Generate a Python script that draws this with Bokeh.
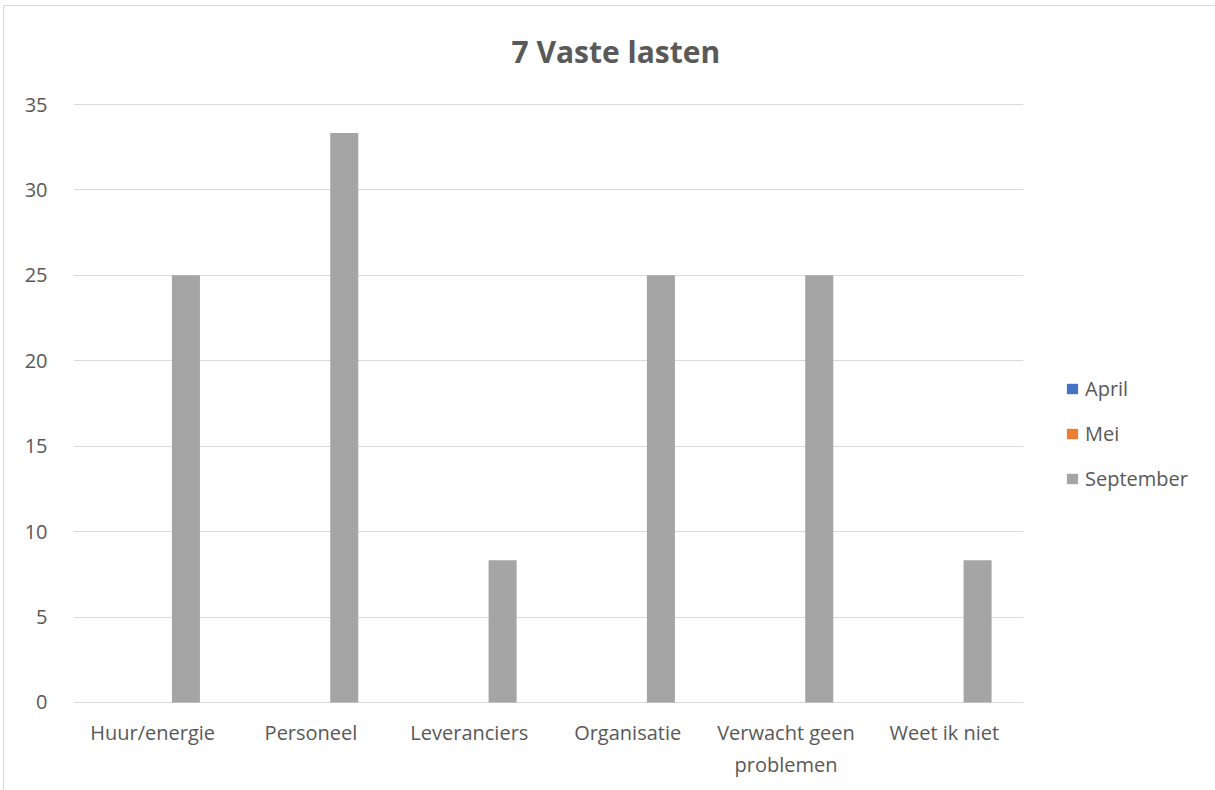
from bokeh.plotting import figure
from bokeh.models import (ColumnDataSource, FactorRange, Range1d, Legend, LegendItem,
                          Title, SingleIntervalTicker, InlineStyleSheet)
from bokeh.transform import dodge
from bokeh.embed import file_html
from bokeh.resources import INLINE

# ---- data ----
categories = ["Huur/energie", "Personeel", "Leveranciers", "Organisatie",
              "Verwacht geen\nproblemen", "Weet ik niet"]
april = [0, 0, 0, 0, 0, 0]
mei = [0, 0, 0, 0, 0, 0]
september = [25, 33.33, 8.33, 25, 25, 8.33]
series_names = ["April", "Mei", "September"]
series_colors = ["#4472c4", "#ed7d31", "#a5a5a5"]
title_text = "7 Vaste lasten"
y_max = 35
y_step = 5

FONT = "Open Sans"
TXT = "#595959"

src = ColumnDataSource(dict(cat=categories, april=april, mei=mei, september=september))

p = figure(x_range=FactorRange(*categories), y_range=Range1d(-0.06, y_max + 0.06),
           frame_width=950, frame_height=600,
           min_border_left=73, min_border_right=192, min_border_top=103, min_border_bottom=87,
           output_backend="svg", toolbar_location=None, background_fill_color="white",
           border_fill_color="white")
p.outline_line_color = None
p.stylesheets = [InlineStyleSheet(css=(
    ":host { overflow: hidden; }"
    ":host::after { content: ''; position: absolute; left: 3px; top: 5px; right: -20px; bottom: -20px;"
    " border-left: 1px solid #d9d9d9; border-top: 1px solid #d9d9d9; pointer-events: none; }"))]

offsets = [-0.21, 0.0, 0.21]
cols = ["april", "mei", "september"]
renderers = []
for off, col, colr in zip(offsets, cols, series_colors):
    r = p.vbar(x=dodge("cat", off, range=p.x_range), top=col, width=0.177,
               source=src, fill_color=colr, line_color=None)
    renderers.append(r)

p.yaxis.ticker = SingleIntervalTicker(interval=y_step)
for ax in (p.xaxis[0], p.yaxis[0]):
    ax.axis_line_color = None
    ax.major_tick_line_color = None
    ax.minor_tick_line_color = None
    ax.major_tick_out = 0
    ax.major_tick_in = 0
    ax.major_label_text_font = FONT
    ax.major_label_text_font_size = "20px"
    ax.major_label_text_color = TXT
p.yaxis.major_label_standoff = 22
p.xaxis[0].major_label_standoff = 15

p.xgrid.grid_line_color = None
p.ygrid.grid_line_color = "#d9d9d9"
p.ygrid.grid_line_width = 1

# title
p.title = Title(text=title_text, align="left", offset=438, vertical_align="top",
                standoff=60, text_font=FONT, text_font_style="bold",
                text_font_size="30px", text_color=TXT)

# legend
legend = Legend(items=[LegendItem(label=n, renderers=[r]) for n, r in zip(series_names, renderers)],
                location=(42, 211), orientation="vertical",
                label_text_font=FONT, label_text_font_size="20px", label_text_color=TXT,
                glyph_width=14, glyph_height=13, label_height=13, spacing=18,
                padding=0, margin=0, label_standoff=6,
                border_line_color=None, background_fill_alpha=0)
p.add_layout(legend, "right")

open("out.html", "w").write(file_html(p, INLINE))
